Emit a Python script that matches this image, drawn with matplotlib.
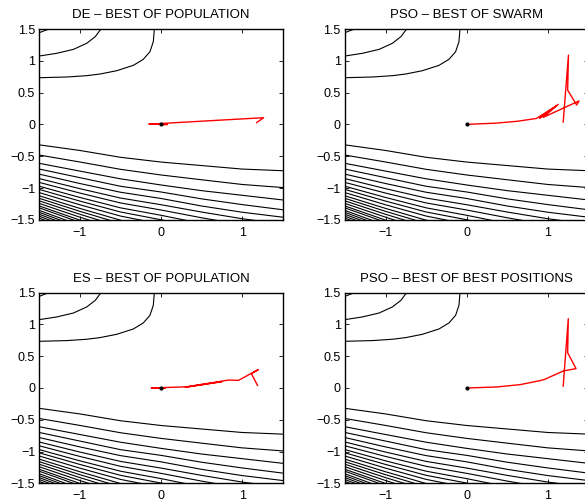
import matplotlib
matplotlib.use("Agg")
import matplotlib.pyplot as plt

plt.rcParams["font.family"] = ["Liberation Sans", "DejaVu Sans"]
plt.rcParams["axes.unicode_minus"] = True

titles = ["DE – BEST OF POPULATION", "PSO – BEST OF SWARM",
          "ES – BEST OF POPULATION", "PSO – BEST OF BEST POSITIONS"]

# contour lines (same in all four panels)
line_x = [-1.5, -1.0, -0.5, 0.0, 0.5, 1.0, 1.5]
lower_lines = [
    [-0.32, -0.408, -0.515, -0.59, -0.645, -0.70, -0.726],
    [-0.48, -0.589, -0.704, -0.793, -0.868, -0.942, -0.99],
    [-0.61, -0.732, -0.853, -0.950, -1.039, -1.112, -1.185],
    [-0.70, -0.835, -0.97, -1.06, -1.168, -1.258, -1.339],
    [-0.78, -0.927, -1.064, -1.162, -1.28, -1.378, -1.456],
    [-0.85, -1.008, -1.155, -1.26, -1.375, -1.48, -1.564],
    [-0.91, -1.077, -1.232, -1.343, -1.465, -1.576, -1.665],
    [-0.97, -1.146, -1.309, -1.426, -1.555, -1.672, -1.766],
    [-1.02, -1.203, -1.374, -1.496, -1.63, -1.752, -1.85],
    [-1.07, -1.261, -1.438, -1.565, -1.705, -1.832, -1.934],
    [-1.12, -1.318, -1.503, -1.635, -1.78, -1.912, -2.018],
    [-1.16, -1.364, -1.554, -1.69, -1.84, -1.976, -2.085],
    [-1.20, -1.41, -1.606, -1.746, -1.9, -2.04, -2.152],
    [-1.24, -1.456, -1.658, -1.80, -1.96, -2.104, -2.219],
    [-1.28, -1.502, -1.709, -1.857, -2.02, -2.168, -2.286],
    [-1.31, -1.537, -1.748, -1.899, -2.065, -2.216, -2.337],
    [-1.35, -1.583, -1.80, -1.955, -2.125, -2.28, -2.404],
    [-1.38, -1.617, -1.838, -1.996, -2.17, -2.328, -2.454],
    [-1.41, -1.652, -1.877, -2.038, -2.215, -2.376, -2.505],
    [-1.44, -1.686, -1.916, -2.08, -2.26, -2.424, -2.555],
    [-1.47, -1.72, -1.954, -2.121, -2.305, -2.472, -2.606],
]
upper_a_x = [-1.5, -1.163, -0.916, -0.752, -0.546, -0.341, -0.218, -0.136, -0.095, -0.082]
upper_a_y = [0.735, 0.746, 0.767, 0.793, 0.845, 0.929, 1.024, 1.144, 1.30, 1.50]
upper_b_x = [-1.5, -1.286, -1.08, -0.916, -0.81, -0.74]
upper_b_y = [1.076, 1.118, 1.18, 1.275, 1.38, 1.50]
upper_c_x = [-1.5, -1.43, -1.377]
upper_c_y = [1.442, 1.478, 1.5]

# best-so-far trajectories
de_x = [1.18, 1.265, -0.15, 0.08, -0.04, 0.03, 0.0]
de_y = [0.03, 0.107, 0.005, 0.0, 0.003, 0.0, 0.0]
pso_x = [1.19, 1.255, 1.245, 1.356, 1.385, 0.945, 1.13, 0.90, 1.10, 0.86, 0.62, 0.35, 0.10, 0.0]
pso_y = [0.04, 1.09, 0.54, 0.306, 0.37, 0.113, 0.317, 0.10, 0.29, 0.095, 0.05, 0.02, 0.008, 0.0]
es_x = [1.19, 1.115, 1.20, 1.07, 0.955, 0.83, 0.30, 0.75, 0.35, -0.12, 0.05, 0.0]
es_y = [0.04, 0.225, 0.29, 0.20, 0.12, 0.125, 0.015, 0.10, 0.02, 0.0, 0.0, 0.0]
psob_x = [1.19, 1.253, 1.245, 1.348, 1.19, 0.96, 0.904, 0.66, 0.37, 0.0]
psob_y = [0.03, 1.09, 0.556, 0.305, 0.267, 0.135, 0.116, 0.053, 0.016, 0.0]
paths = [(de_x, de_y), (pso_x, pso_y), (es_x, es_y), (psob_x, psob_y)]

fig = plt.figure(figsize=(5.85, 5.01), dpi=100)
positions = [
    [0.0672, 0.5609, 0.416, 0.3812],
    [0.5897, 0.5609, 0.416, 0.3812],
    [0.0672, 0.0353, 0.416, 0.3805],
    [0.5897, 0.0353, 0.416, 0.3805],
]

for i in range(4):
    ax = fig.add_axes(positions[i])
    for ys in lower_lines:
        ax.plot(line_x, ys, color="black", lw=0.8)
    ax.plot(upper_a_x, upper_a_y, color="black", lw=0.8)
    ax.plot(upper_b_x, upper_b_y, color="black", lw=0.8)
    ax.plot(upper_c_x, upper_c_y, color="black", lw=0.8)
    px, py = paths[i]
    ax.plot(px, py, color="red", lw=1.0)
    ax.plot([0], [0], ".", color="black", ms=4)
    ax.set_xlim(-1.5, 1.5)
    ax.set_ylim(-1.5, 1.5)
    ax.set_xticks([-1, 0, 1])
    ax.set_yticks([-1.5, -1, -0.5, 0, 0.5, 1, 1.5])
    ax.set_yticklabels(["−1.5", "−1", "−0.5", "0", "0.5", "1", "1.5"])
    ax.set_xticklabels(["−1", "0", "1"])
    ax.tick_params(direction="in", top=True, right=True, length=3, width=0.6,
                   labelsize=9, pad=3)
    ax.tick_params(axis="x", pad=5)
    for s in ax.spines.values():
        s.set_linewidth(1.0)
    ax.set_title(titles[i], fontsize=9.5, pad=8)

fig.savefig("out.png", dpi=100)
